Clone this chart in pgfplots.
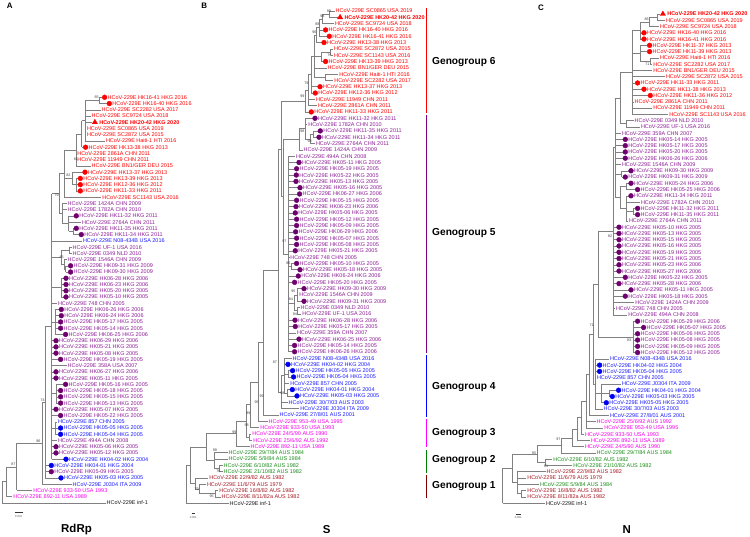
\documentclass[border=0pt]{standalone}
\usepackage{pgfplots}
\pgfplotsset{compat=1.18}
\usepackage{pgfplotstable}
\usepackage{fontspec}
\setmainfont{Liberation Sans}

\definecolor{L0}{RGB}{20,20,20}
\definecolor{L1}{RGB}{255,0,0}
\definecolor{L2}{RGB}{140,30,150}
\definecolor{L3}{RGB}{25,25,255}
\definecolor{L4}{RGB}{245,0,235}
\definecolor{L5}{RGB}{25,140,25}
\definecolor{L6}{RGB}{165,25,35}
\definecolor{L7}{RGB}{255,0,0}
\definecolor{D1}{RGB}{255,0,0}
\definecolor{D2}{RGB}{110,0,110}
\definecolor{D3}{RGB}{0,0,240}
\definecolor{ggsix}{RGB}{255,0,0}
\definecolor{ggfive}{RGB}{128,0,128}
\definecolor{ggfour}{RGB}{0,0,255}
\definecolor{ggthree}{RGB}{255,0,255}
\definecolor{ggtwo}{RGB}{0,128,0}
\definecolor{ggone}{RGB}{130,0,0}
\definecolor{treegray}{RGB}{128,128,128}
\expandafter\def\csname fnt7\endcsname{\bfseries}
\newcommand{\lf}{\fontsize{5.5}{6}\selectfont}
\newcommand{\bsf}{\fontsize{3.7}{4}\selectfont}

% ---------------- Panel A (RdRp) ----------------
\pgfplotstableread[col sep=comma]{
i,x,px,m,c,lab
1,102.3,99,1,1,HK16-41 HKG 2016
2,107,99,1,1,HK16-40 HKG 2016
3,100.7,85,0,1,SC2282 USA 2017
4,90.7,85,0,1,SC9724 USA 2018
5,92.3,85,2,7,HK20-42 HKG 2020
6,86,85,0,1,SC0865 USA 2019
7,86,85,0,1,SC2872 USA 2015
8,105,85,0,1,Haiti-1 HTI 2016
9,83.3,81.5,1,1,HK13-38 HKG 2013
10,76.3,76,0,1,2861A CHN 2011
11,76.3,76,0,1,11949 CHN 2011
12,90.7,76,0,1,BN1/GER DEU 2015
13,82.7,72,1,1,HK13-37 HKG 2013
14,78,76,1,1,HK13-39 HKG 2013
15,78,76,1,1,HK12-36 HKG 2012
16,78,76,1,1,HK11-33 HKG 2011
17,101.3,64,0,1,SC1143 USA 2016
18,66.7,62,0,2,1424A CHN 2009
19,66.7,62,0,2,1782A CHN 2010
20,74,68.5,1,2,HK11-32 HKG 2011
21,81,68.5,0,2,2764A CHN 2011
22,74,73.3,1,2,HK11-35 HKG 2011
23,79,73.3,1,2,HK11-34 HKG 2011
24,82,51.5,0,3,N08-434B USA 2016
25,71.7,69,0,2,UF-1 USA 2016
26,71.7,69,0,2,0349 NLD 2010
27,66.7,64,0,2,1546A CHN 2009
28,68.3,65.5,1,2,HK09-31 HKG 2009
29,68.3,65.5,1,2,HK09-30 HKG 2009
30,63.7,61,1,2,HK06-28 HKG 2006
31,63.7,61,1,2,HK06-23 HKG 2006
32,63.7,61,1,2,HK05-20 HKG 2005
33,63.7,61,1,2,HK05-10 HKG 2005
34,57,51.5,0,2,748 CHN 2005
35,59,55,1,2,HK06-26 HKG 2006
36,59,55,1,2,HK06-24 HKG 2006
37,58.3,55,1,2,HK05-17 HKG 2005
38,58.3,55,1,2,HK05-14 HKG 2005
39,63.3,55,1,2,HK06-25 HKG 2006
40,53.7,51.5,1,2,HK06-29 HKG 2006
41,53.7,51.5,1,2,HK05-21 HKG 2005
42,53.7,51.5,1,2,HK05-08 HKG 2005
43,58.3,51.5,1,2,HK05-19 HKG 2005
44,66.7,51.5,0,2,358A USA 2007
45,53.7,51.5,1,2,HK06-27 HKG 2006
46,53.7,51.5,1,2,HK05-11 HKG 2005
47,63.3,56,1,2,HK05-16 HKG 2005
48,58.3,56,1,2,HK05-18 HKG 2005
49,58.3,56,1,2,HK05-15 HKG 2005
50,58.3,56,1,2,HK05-13 HKG 2005
51,53.7,51.5,1,2,HK05-07 HKG 2005
52,58.3,51.5,1,2,HK05-22 HKG 2005
53,57,55,0,3,857 CHN 2005
54,58.3,55,1,3,HK05-05 HKG 2005
55,58.3,55,1,3,HK05-04 HKG 2005
56,57,51.5,0,2,494A CHN 2008
57,53.7,51.5,1,2,HK05-06 HKG 2005
58,53.7,51.5,1,2,HK05-12 HKG 2005
59,63.7,51.5,1,3,HK04-02 HKG 2004
60,49,45,1,3,HK04-01 HKG 2004
61,49,45,1,2,HK05-09 HKG 2005
62,58.7,45,1,3,HK05-03 HKG 2005
63,71.7,42,0,3,J0304 ITA 2009
64,32.3,16.7,0,4,933-50 USA 1993
65,12.3,6,0,4,892-11 USA 1989
66,105.7,2,0,0,inf-1
}\LA
\pgfplotstableread[col sep=comma]{
x,ya,yb,px
99,97.3,103.54,85
85,100.42,140.98,81.5
81.5,120.7,147.22,76
76,133.96,165.94,64
76,178.42,190.9,72
72,172.18,184.66,64
64,149.95,197.14,59
73.3,228.34,234.58,68.5
68.5,215.86,231.46,62
62,203.38,223.66,59
59,173.55,213.52,51.5
65.5,265.78,272.02,64
64,259.54,268.9,61
69,247.06,253.3,61
61,250.18,264.22,51.5
61,278.26,296.98,51.5
55,309.46,334.42,51.5
56,384.34,403.06,51.5
55,421.78,434.26,51.5
51.5,193.54,459.22,45
45,326.38,477.94,42
42,402.16,484.18,16.7
16.7,443.17,490.42,6
6,466.8,496.66,2
2,481.73,502.9,2
}\NA

% ---------------- Panel B (S) ----------------
\pgfplotstableread[col sep=comma]{
i,x,px,m,c,lab
1,334.7,329,0,1,SC0865 USA 2019
2,337.5,329,2,7,HK20-42 HKG 2020
3,334,322,0,1,SC9724 USA 2018
4,323.3,319,1,1,HK16-40 HKG 2016
5,327,319,1,1,HK16-41 HKG 2016
6,321.7,316,1,1,HK13-38 HKG 2013
7,333,330.5,0,1,SC2872 USA 2015
8,333,330.5,0,1,SC1143 USA 2016
9,323.3,321,1,1,HK13-39 HKG 2013
10,326.7,314,0,1,BN1/GER DEU 2015
11,338.3,325,0,1,Haiti-1 HTI 2016
12,333.3,325,0,1,SC2282 USA 2017
13,317.7,311,1,1,HK13-37 HKG 2013
14,313,311,1,1,HK12-36 HKG 2012
15,315,308,0,1,11949 CHN 2011
16,317,308,0,1,2861A CHN 2011
17,309,305,1,1,HK11-33 HKG 2011
18,312.7,305,1,2,HK11-32 HKG 2011
19,307.3,305,0,2,1782A CHN 2010
20,318,313,1,2,HK11-35 HKG 2011
21,316.7,313,1,2,HK11-34 HKG 2011
22,315,310,0,2,2764A CHN 2011
23,302.7,299,0,2,1424A CHN 2009
24,295,288.5,0,2,494A CHN 2008
25,296.7,288.5,1,2,HK05-11 HKG 2005
26,294.3,288.5,1,2,HK05-19 HKG 2005
27,294,288.5,1,2,HK05-22 HKG 2005
28,293.7,288.5,1,2,HK05-13 HKG 2005
29,297.7,288.5,1,2,HK05-16 HKG 2005
30,297.3,288.5,1,2,HK06-27 HKG 2006
31,294.3,288.5,1,2,HK05-15 HKG 2005
32,293.7,288.5,1,2,HK06-23 HKG 2006
33,293,288.5,1,2,HK05-06 HKG 2005
34,294.3,288.5,1,2,HK05-12 HKG 2005
35,294.3,288.5,1,2,HK05-09 HKG 2005
36,293.3,288.5,1,2,HK06-29 HKG 2006
37,294.3,288.5,1,2,HK05-07 HKG 2005
38,294.3,288.5,1,2,HK05-08 HKG 2005
39,293,288.5,1,2,HK05-21 HKG 2005
40,289.3,288.5,0,2,748 CHN 2005
41,294.3,291,1,2,HK05-10 HKG 2005
42,297.7,291,1,2,HK05-18 HKG 2005
43,296,288.5,1,2,HK06-24 HKG 2006
44,292.3,288.5,1,2,HK05-20 HKG 2005
45,301.7,297,1,2,HK09-30 HKG 2009
46,298.3,297,0,2,1546A CHN 2009
47,301.7,297,1,2,HK09-31 HKG 2009
48,299.7,297,0,2,0349 NLD 2010
49,301.3,297,0,2,UF-1 USA 2016
50,292.7,288.5,1,2,HK06-28 HKG 2006
51,293,288.5,1,2,HK05-17 HKG 2005
52,296,288.5,0,2,359A CHN 2007
53,296.7,288.5,1,2,HK06-25 HKG 2006
54,292.3,288.5,1,2,HK05-14 HKG 2005
55,292.3,288.5,1,2,HK06-26 HKG 2006
56,291.7,284,0,3,N08-434B USA 2016
57,285.7,284,1,3,HK04-02 HKG 2004
58,290.3,288,1,3,HK05-05 HKG 2005
59,291.3,288,1,3,HK05-04 HKG 2005
60,289.3,284,0,3,857 CHN 2005
61,290,287,1,3,HK04-01 HKG 2004
62,294.7,287,1,3,HK05-03 HKG 2005
63,287.7,281.5,0,3,30/7/03 AUS 2003
64,299.3,281.5,0,3,J0304 ITA 2009
65,278.7,263,0,3,27/8/01 AUS 2001
66,267.7,258,0,4,953-49 USA 1995
67,259.3,250,0,4,933-50 USA 1993
68,251.3,249,0,4,24/5/90 AUS 1990
69,252.3,249,0,4,25/6/92 AUS 1992
70,249.7,236,0,4,892-11 USA 1989
71,227.7,214,0,5,29/7/84 AUS 1984
72,227.7,214,0,5,5/9/84 AUS 1984
73,222.7,219,0,5,6/10/82 AUS 1982
74,222.7,219,0,5,21/10/82 AUS 1982
75,208.3,195,0,6,22/9/82 AUS 1982
76,206,199,0,6,11/6/79 AUS 1979
77,218.3,215,0,6,16/8/82 AUS 1982
78,220.7,215,0,6,8/11/82a AUS 1982
79,228.7,186,0,0,inf-1
}\LB
\pgfplotstableread[col sep=comma]{
x,ya,yb,px
329,11,17.31,322
322,14.155,23.62,319
319,18.89,36.24,316
316,27.565,42.55,314
330.5,48.86,55.17,321
321,52.015,61.48,314
325,74.1,80.41,314
314,35.06,77.255,311
311,56.16,93.03,308
308,74.6,105.65,305
305,90.12,111.96,281
313,130.89,137.2,310
310,134.05,143.51,305
305,118.27,138.78,299
299,128.52,149.82,283
291,263.4,269.71,288.5
297,288.64,301.26,294
297,307.57,313.88,294
294,294.95,310.73,288.5
288.5,156.13,351.74,283
283,139.17,253.94,281
281,101.04,196.55,278
287,389.6,395.91,284
288,370.67,376.98,284
284,358.05,392.76,281.5
281.5,375.4,408.53,278
278,148.8,391.97,263
263,270.38,414.84,258
258,342.61,421.15,250
250,381.88,427.46,246
249,433.77,440.08,246
246,404.67,436.93,236
236,420.8,446.39,206
219,465.32,471.63,214
214,452.7,468.48,206
206,433.6,460.59,190
215,490.56,496.87,199
199,484.25,493.72,195
195,477.94,488.99,190
190,447.1,483.47,186
186,465.29,503.18,186
}\NB

% ---------------- Panel C (N) ----------------
\pgfplotstableread[col sep=comma]{
i,x,px,m,c,lab
1,660.3,657,2,7,HK20-42 HKG 2020
2,665,657,0,1,SC0865 USA 2019
3,659,649,0,1,SC9724 USA 2018
4,641.7,640,1,1,HK16-40 HKG 2016
5,641.7,640,1,1,HK16-41 HKG 2016
6,647.3,640,1,1,HK11-37 HKG 2013
7,647.3,640,1,1,HK11-39 HKG 2013
8,659,650,0,1,Haiti-1 HTI 2016
9,652.3,650,0,1,SC2282 USA 2017
10,652.3,632.3,0,1,BN1/GER DEU 2015
11,665,632.3,0,1,SC2872 USA 2015
12,635.3,632.3,1,1,HK11-33 HKG 2011
13,641.7,632.3,1,1,HK11-38 HKG 2013
14,648,632.3,1,1,HK11-36 HKG 2012
15,633.7,632.3,0,1,2861A CHN 2011
16,652.3,632.3,0,1,11949 CHN 2011
17,668.3,632.3,0,1,SC1143 USA 2016
18,633.7,626,0,2,0349 NLD 2010
19,640,626,0,2,UF-1 USA 2016
20,621,615,0,2,359A CHN 2007
21,623,615,1,2,HK05-14 HKG 2005
22,623,615,1,2,HK05-17 HKG 2005
23,623,615,1,2,HK05-20 HKG 2005
24,623,615,1,2,HK06-26 HKG 2006
25,621,615,0,2,1546A CHN 2009
26,628.7,621.5,1,2,HK09-30 HKG 2009
27,623,621.5,1,2,HK09-31 HKG 2009
28,628.7,626,1,2,HK05-24 HKG 2006
29,635.3,626,1,2,HK05-25 HKG 2006
30,628.7,626,1,2,HK11-34 HKG 2011
31,640,626,0,2,1782A CHN 2010
32,635.3,633,1,2,HK11-32 HKG 2011
33,635.3,633,1,2,HK11-35 HKG 2011
34,628,626,0,2,2764A CHN 2011
35,616.7,613,1,2,HK05-10 HKG 2005
36,616.7,613,1,2,HK05-13 HKG 2005
37,616.7,613,1,2,HK05-15 HKG 2005
38,616.7,613,1,2,HK05-16 HKG 2005
39,616.7,613,1,2,HK05-19 HKG 2005
40,616.7,613,1,2,HK05-21 HKG 2005
41,616.7,613,1,2,HK05-23 HKG 2006
42,616.7,613,1,2,HK05-27 HKG 2006
43,623,613,1,2,HK05-22 HKG 2005
44,616.7,613,1,2,HK05-28 HKG 2006
45,628.7,613,1,2,HK05-11 HKG 2005
46,623,613,1,2,HK05-18 HKG 2005
47,634.3,613,0,2,1424A CHN 2009
48,615,613,0,2,748 CHN 2005
49,627.3,613,0,2,494A CHN 2008
50,635.3,633,1,2,HK05-29 HKG 2006
51,641.3,633,1,2,HK05-07 HKG 2005
52,635.3,633,1,2,HK05-06 HKG 2005
53,635.3,633,1,2,HK05-08 HKG 2005
54,635.3,633,1,2,HK05-09 HKG 2005
55,635.3,633,1,2,HK05-12 HKG 2005
56,609,595,0,3,N08-434B USA 2016
57,597.3,595,1,3,HK04-02 HKG 2004
58,597.3,595,1,3,HK05-04 HKG 2005
59,596,595,0,3,857 CHN 2005
60,621,601,0,3,J0304 ITA 2009
61,616.3,609,1,3,HK04-01 HKG 2004
62,610,609,1,3,HK05-03 HKG 2005
63,604,601,1,3,HK05-05 HKG 2005
64,602.7,595,0,3,30/7/03 AUS 2003
65,609,589,0,3,27/8/01 AUS 2001
66,595.7,586,0,4,25/6/92 AUS 1992
67,603.3,586,0,4,953-49 USA 1995
68,584,581,0,4,933-50 USA 1993
69,590,577,0,4,892-11 USA 1989
70,584,572,0,4,24/5/90 AUS 1990
71,595.7,561,0,5,29/7/84 AUS 1984
72,552.3,545,0,5,6/10/82 AUS 1982
73,572.3,545,0,5,21/10/82 AUS 1982
74,545.7,517,0,6,22/9/82 AUS 1982
75,526.3,517,0,6,11/6/79 AUS 1979
76,539,517,0,5,5/9/84 AUS 1984
77,526.3,521,0,6,16/8/82 AUS 1982
78,526.3,521,0,6,8/11/82a AUS 1982
79,545,502.7,0,0,inf-1
}\LC
\pgfplotstableread[col sep=comma]{
x,ya,yb,px
657,14,20.27,649
649,17.135,26.54,640
640,21.84,39.08,632.3
650,57.89,64.16,640
640,45.35,61.03,632.3
632.3,30.46,114.32,620
626,120.59,126.86,620
620,72.39,123.73,615
621.5,170.75,177.02,615
626,183.29,189.56,620
633,208.37,214.64,626
626,195.83,220.91,620
620,186.43,208.37,615
615,98.06,197.4,613
613,147.73,314.96,598
633,321.23,352.58,598
598,231.35,336.9,593
609,390.2,396.47,601
601,383.93,402.74,595
595,358.85,409.01,593
593,284.13,383.93,589
589,334.03,415.28,586
586,374.66,427.82,581
581,401.24,434.09,577
577,417.67,440.36,572
572,429.01,446.63,561
561,437.82,452.9,537
545,459.17,465.44,537
537,445.36,462.3,512.5
521,490.52,496.79,517
517,471.71,493.66,512.5
512.5,453.83,482.68,502.7
502.7,468.26,503.06,502.7
}\NC

% derived columns: leaf row position, label start, marker position, node mid-height
\newcommand{\prep}[4]{%
 \pgfplotstablecreatecol[create col/expr={#3+(\thisrow{i}-1)*#4}]{ly}{#1}%
 \pgfplotstablecreatecol[create col/expr={\thisrow{x}+1+4.4*(\thisrow{m}==1)+6*(\thisrow{m}==2)}]{lx}{#1}%
 \pgfplotstablecreatecol[create col/expr={\thisrow{x}+2.3+0.3*(\thisrow{m}==2)}]{mx}{#1}%
 \pgfplotstablecreatecol[create col/expr={0.5*(\thisrow{ya}+\thisrow{yb})}]{ym}{#2}%
}
\prep{\LA}{\NA}{97.3}{6.24}
\prep{\LB}{\NB}{11}{6.31}
\prep{\LC}{\NC}{14}{6.27}

% bootstrap values
\pgfplotstableread[col sep=comma]{
x,y,t
96.7,97.3,85
76,159.3,81
68.3,175.7,82
56.7,195.7,79
61.7,257.7,85
42.7,400,74
38.3,441,96
13.3,464,87
329,11.7,99
322.3,16,98
317.3,24.3,88
314.3,32.3,96
329.3,55,79
306.3,83,79
302.3,96.7,99
302.3,131.7,98
309.7,141.7,98
284.3,241,97
288.3,263.3,86
293.3,291.7,95
291,299,84
295,314.3,94
275,362.7,87
282.3,393.3,98
261.7,396,99
256.7,402.3,95
248.3,413.3,89
246.7,425,98
234.3,432.7,99
215,450,99
218.3,471.3,76
196.7,489.3,79
211.7,496.7,95
646.7,19.3,86
647.3,64.3,71
610,236,92
591.7,325,71
629,340,93
558.3,439.3,97
534,453,95
546,466,91
}\BS

\pgfplotstableread[col sep=comma]{
x,y,t
432,62,Genogroup 6
432,233,Genogroup 5
432,386.7,Genogroup 4
432,433.3,Genogroup 3
432,460,Genogroup 2
432,486,Genogroup 1
}\GL

\pgfplotstableread[col sep=comma]{
x,y,t
76.5,530,RdRp
326.7,530,S
626.7,530,N
}\TT

\pgfplotstableread[col sep=comma]{
x,y,t
9.7,6,A
204.2,6,B
541,8,C
}\PL

\pgfplotstableread[col sep=comma]{
x,y,t
18.7,516.5,0.001
193.3,517.5,0.001
518.3,518,0.001
}\SB

\pgfplotsset{tree/.style={treegray, line width=0.5bp}}

\newcommand{\drawpanel}[2]{%
 \addplot[tree, quiver={u=\thisrow{x}-\thisrow{px}, v=0}] table[x=px, y=ly]{#1};
 \addplot[tree, quiver={u=0, v=\thisrow{yb}-\thisrow{ya}}] table[x=x, y=ya]{#2};
 \addplot[tree, quiver={u=\thisrow{x}-\thisrow{px}, v=0}] table[x=px, y=ym]{#2};
 \addplot[only marks, mark=*, mark size=2.4bp, color=D1, restrict expr to domain={(\thisrow{m}==1)*(\thisrow{c}==1)}{0.5:1.5}] table[x=mx, y=ly]{#1};
 \addplot[only marks, mark=*, mark size=2.4bp, color=D2, restrict expr to domain={(\thisrow{m}==1)*(\thisrow{c}==2)}{0.5:1.5}] table[x=mx, y=ly]{#1};
 \addplot[only marks, mark=*, mark size=2.4bp, color=D3, restrict expr to domain={(\thisrow{m}==1)*(\thisrow{c}==3)}{0.5:1.5}] table[x=mx, y=ly]{#1};
 \addplot[only marks, mark=triangle*, mark size=3bp, color=D1, restrict expr to domain={\thisrow{m}}{1.5:2.5}] table[x=mx, y=ly]{#1};
 \pgfplotsinvokeforeach{0,...,7}{%
 \addplot[draw=none, mark=none, point meta=explicit symbolic,
   restrict expr to domain={\thisrow{c}-##1}{-0.5:0.5},
   nodes near coords={HCoV-229E \pgfplotspointmeta},
   nodes near coords style={anchor=west, inner sep=0pt, outer sep=0pt, font=\lf\csname fnt##1\endcsname, text=L##1, text height=3.9bp, text depth=0pt}]
   table[x=lx, y=ly, meta=lab]{#1};
 }
}

\begin{document}
\begin{tikzpicture}
\useasboundingbox (0,0) rectangle (750bp,537bp);
\begin{axis}[at={(0,0)}, anchor=south west, scale only axis, width=750bp, height=537bp,
  xmin=0, xmax=750, ymin=0, ymax=537, y dir=reverse, hide axis, clip=false]

\drawpanel{\LA}{\NA}
\drawpanel{\LB}{\NB}
\drawpanel{\LC}{\NC}

% bootstrap values
\addplot[draw=none, mark=none, point meta=explicit symbolic, nodes near coords,
  nodes near coords style={anchor=center, inner sep=0pt, font=\bsf, text=black!75}]
  table[x=x, y=y, meta=t]{\BS};

% genogroup bars
\addplot[draw=ggsix, line width=1.1bp] coordinates {(426.8,8.3) (426.8,112.7)};
\addplot[draw=ggfive, line width=1.1bp] coordinates {(426.8,115) (426.8,353.3)};
\addplot[draw=ggfour, line width=1.1bp] coordinates {(426.8,355.3) (426.8,417.3)};
\addplot[draw=ggthree, line width=1.1bp] coordinates {(426.8,419.3) (426.8,447.3)};
\addplot[draw=ggtwo, line width=1.1bp] coordinates {(426.8,450) (426.8,472.7)};
\addplot[draw=ggone, line width=1.1bp] coordinates {(426.8,475) (426.8,498.3)};

\addplot[draw=none, mark=none, point meta=explicit symbolic, nodes near coords,
  nodes near coords style={anchor=west, inner sep=0pt, font=\fontsize{10.2}{12}\selectfont\bfseries, text=black}]
  table[x=x, y=y, meta=t]{\GL};

\addplot[draw=none, mark=none, point meta=explicit symbolic, nodes near coords,
  nodes near coords style={anchor=center, inner sep=0pt, font=\fontsize{11.5}{13}\selectfont\bfseries, text=black}]
  table[x=x, y=y, meta=t]{\TT};

\addplot[draw=none, mark=none, point meta=explicit symbolic, nodes near coords,
  nodes near coords style={anchor=center, inner sep=0pt, font=\fontsize{8}{9}\selectfont\bfseries, text=black}]
  table[x=x, y=y, meta=t]{\PL};

% scale bars
\addplot[black!80, line width=0.4bp] coordinates {(14.5,512) (23,512)};
\addplot[black!80, line width=0.4bp] coordinates {(191.7,513.3) (195,513.3)};
\addplot[black!80, line width=0.4bp] coordinates {(516,514) (520.7,514)};
\addplot[draw=none, mark=none, point meta=explicit symbolic, nodes near coords,
  nodes near coords style={anchor=center, inner sep=0pt, font=\fontsize{2.8}{3}\selectfont, text=black!70}]
  table[x=x, y=y, meta=t]{\SB};

\end{axis}
\end{tikzpicture}
\end{document}
